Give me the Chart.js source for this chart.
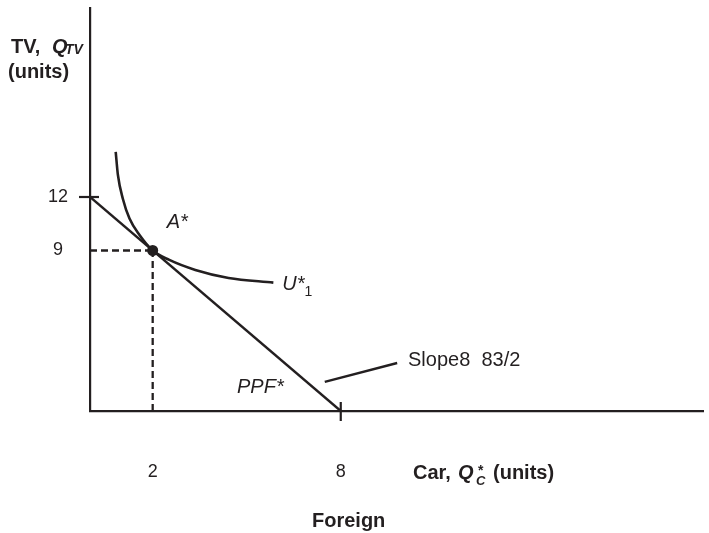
<!DOCTYPE html>
<html><head><meta charset="utf-8">
<script src="https://cdn.jsdelivr.net/npm/chart.js@4.4.1/dist/chart.umd.min.js"></script>
<style>html,body{margin:0;padding:0;background:#fff;overflow:hidden}#wrap{width:709px;height:533px}</style>
</head><body><div id="wrap"><canvas id="c" width="709" height="533"></canvas></div>
<script>
// ---- data ----
const xTickValues = [2, 8];
const yTickValues = [9, 12];
const ppfX = [0, 8];
const ppfY = [12, 0];
const pointAX = [2];
const pointAY = [9];
const indiffX = [0.82, 0.89, 1.05, 1.26, 1.58, 2.0, 2.53, 3.36, 4.42, 5.85];
const indiffY = [14.53, 13.24, 11.89, 10.79, 9.87, 9.0, 8.47, 7.91, 7.46, 7.20];
const guideHX = [0, 2];
const guideHY = [9, 9];
const guideVX = [2, 2];
const guideVY = [0, 9];
const leaderX = [7.49, 9.80];
const leaderY = [1.63, 2.69];
const yMarkValues = [12];
const xMarkValues = [8];

const INK = '#231f20';
const FAM = '"Liberation Sans", Arial, Helvetica, sans-serif';
const pts = (xs, ys) => xs.map((x, i) => ({x: x, y: ys[i]}));

function put(ctx, txt, x, y, size, style) {
  ctx.font = (style || '') + ' ' + size + 'px ' + FAM;
  ctx.fillText(txt, x, y);
  return ctx.measureText(txt).width;
}

const annot = {
  id: 'annot',
  afterDatasetsDraw(chart) {
    const ctx = chart.ctx, xs = chart.scales.x, ys = chart.scales.y;
    const axisX = chart.chartArea.left, axisY = chart.chartArea.bottom;
    ctx.save();
    ctx.strokeStyle = INK; ctx.lineWidth = 2.2;
    // tick marks crossing the axes
    yMarkValues.forEach(v => {
      const py = ys.getPixelForValue(v);
      ctx.beginPath(); ctx.moveTo(axisX - 11, py); ctx.lineTo(axisX + 9, py); ctx.stroke();
    });
    xMarkValues.forEach(v => {
      const px = xs.getPixelForValue(v);
      ctx.beginPath(); ctx.moveTo(px, axisY - 9); ctx.lineTo(px, axisY + 10); ctx.stroke();
    });
    ctx.fillStyle = INK; ctx.textBaseline = 'alphabetic'; ctx.textAlign = 'left';
    // y axis title
    put(ctx, 'TV, ', 11, 53, 20, 'bold');
    put(ctx, 'Q', 52, 53, 20, 'italic bold');
    put(ctx, 'TV', 65, 54, 14, 'italic bold');
    put(ctx, '(units)', 8, 78, 20, 'bold');
    // x axis title
    put(ctx, 'Car,', 413, 479, 20, 'bold');
    put(ctx, 'Q', 458, 479, 20, 'italic bold');
    put(ctx, '*', 478, 475, 14, 'bold');
    put(ctx, 'C', 476, 485, 13, 'italic bold');
    put(ctx, '(units)', 493, 479, 20, 'bold');
    put(ctx, 'Foreign', 312, 527, 20, 'bold');
    // point label
    const dx = xs.getPixelForValue(pointAX[0]), dy = ys.getPixelForValue(pointAY[0]);
    put(ctx, 'A*', dx + 14, dy - 22, 20, 'italic');
    // indifference curve label
    const n = indiffX.length - 1;
    const ex = xs.getPixelForValue(indiffX[n]), ey = ys.getPixelForValue(indiffY[n]);
    const uw = put(ctx, 'U*', ex + 9, ey + 7, 20, 'italic');
    put(ctx, '1', ex + 9 + uw, ey + 13, 14, '');
    put(ctx, 'PPF*', 237, 393, 20, 'italic');
    put(ctx, 'Slope8  83/2', 408, 366, 20, '');
    ctx.restore();
  }
};

new Chart(document.getElementById('c'), {
  type: 'line',
  data: {
    datasets: [
      {data: pts(guideHX, guideHY), borderColor: INK, borderWidth: 2.3, borderDash: [7, 4], pointRadius: 0, fill: false},
      {data: pts(guideVX, guideVY), borderColor: INK, borderWidth: 2.3, borderDash: [7, 4], pointRadius: 0, fill: false},
      {data: pts(ppfX, ppfY), borderColor: INK, borderWidth: 2.4, pointRadius: 0, fill: false},
      {data: pts(indiffX, indiffY), borderColor: INK, borderWidth: 2.6, pointRadius: 0, fill: false, cubicInterpolationMode: 'monotone'},
      {data: pts(leaderX, leaderY), borderColor: INK, borderWidth: 2.4, pointRadius: 0, fill: false, clip: false},
      {data: pts(pointAX, pointAY), showLine: false, pointRadius: 5.5, pointBackgroundColor: INK, pointBorderColor: INK, pointBorderWidth: 0}
    ]
  },
  options: {
    responsive: false,
    animation: false,
    devicePixelRatio: 1,
    layout: {padding: {left: 0, top: 8, right: 0, bottom: 0}},
    plugins: {legend: {display: false}, tooltip: {enabled: false}},
    scales: {
      x: {
        type: 'linear', min: 0, max: 19.573,
        afterBuildTicks: s => { s.ticks = xTickValues.map(v => ({value: v})); },
        afterFit: s => { s.height = 122; s.paddingLeft = 0; s.paddingRight = 0; },
        ticks: {autoSkip: false, maxRotation: 0, padding: 50, color: INK, font: {size: 18, family: FAM}},
        grid: {drawOnChartArea: false, drawTicks: false},
        border: {display: true, color: INK, width: 2.2}
      },
      y: {
        type: 'linear', min: 0, max: 22.598,
        afterBuildTicks: s => { s.ticks = yTickValues.map(v => ({value: v})); },
        afterFit: s => { s.width = 90; s.paddingTop = 0; s.paddingBottom = 0; },
        ticks: {autoSkip: false, padding: 22, crossAlign: 'center', color: INK, font: {size: 18, family: FAM}},
        grid: {drawOnChartArea: false, drawTicks: false},
        border: {display: true, color: INK, width: 2.2}
      }
    }
  },
  plugins: [annot]
});
</script></body></html>
